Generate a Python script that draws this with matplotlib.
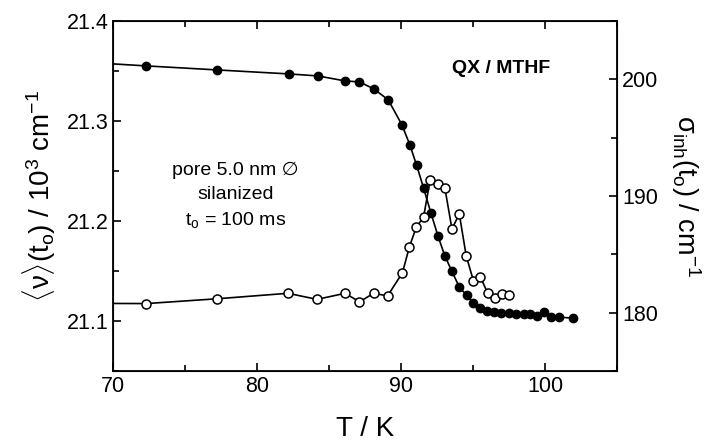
import matplotlib
matplotlib.use("Agg")
import matplotlib.pyplot as plt
from matplotlib.ticker import MultipleLocator

plt.rcParams['font.family'] = ['Liberation Sans', 'DejaVu Sans']
plt.rcParams['mathtext.fontset'] = 'custom'
plt.rcParams['mathtext.rm'] = 'Liberation Sans'
plt.rcParams['mathtext.it'] = 'Liberation Sans:italic'
plt.rcParams['mathtext.bf'] = 'Liberation Sans:bold'

# mean frequency (left axis), filled circles; first entry is the line start at the axis
T_mean = [70.0, 72.3, 77.2, 82.2, 84.2, 86.1, 87.1, 88.1, 89.1, 90.05, 90.6, 91.06,
          91.55, 92.06, 92.55, 93.03, 93.51, 94.03, 94.53, 95.0, 95.49, 95.95,
          96.41, 96.9, 97.45, 97.99, 98.49, 98.96, 99.42, 99.93, 100.42, 100.92,
          101.92]
nu_mean = [21.357, 21.355, 21.351, 21.347, 21.345, 21.340, 21.339, 21.332, 21.321,
           21.296, 21.276, 21.256, 21.233, 21.208, 21.185, 21.165, 21.150, 21.134,
           21.126, 21.118, 21.113, 21.110, 21.109, 21.108, 21.108, 21.107, 21.107,
           21.107, 21.105, 21.109, 21.104, 21.104, 21.103]

# inhomogeneous width (right axis), open circles
T_sig = [70.0, 72.3, 77.2, 82.13, 84.15, 86.1, 87.1, 88.08, 89.05, 90.08, 90.57,
         91.04, 91.55, 92.01, 92.52, 93.03, 93.52, 94.03, 94.51, 95.01, 95.5,
         95.99, 96.48, 96.96, 97.45]
sigma = [180.8, 180.79, 181.2, 181.67, 181.15, 181.67, 180.94, 181.67, 181.45,
         183.42, 185.67, 187.32, 188.21, 191.39, 191.05, 190.67, 187.18, 188.46,
         184.87, 182.74, 183.05, 181.71, 181.26, 181.62, 181.54]

fig = plt.figure(figsize=(7.12, 4.44), dpi=100)
ax = fig.add_axes([0.159, 0.164, 0.708, 0.789])
ax2 = ax.twinx()

ax.plot(T_mean, nu_mean, color='black', lw=1.2, marker='o', ms=6,
        mfc='black', mec='black', markevery=list(range(1, len(T_mean))), zorder=3)
ax2.plot(T_sig, sigma, color='black', lw=1.2, marker='o', ms=6.5,
         mfc='white', mec='black', mew=1.1, markevery=list(range(1, len(T_sig))))

ax.set_xlim(70, 105)
ax.set_ylim(21.05, 21.4)
ax2.set_ylim(175, 205)

ax.xaxis.set_minor_locator(MultipleLocator(5))
ax.yaxis.set_minor_locator(MultipleLocator(0.05))
ax2.yaxis.set_major_locator(MultipleLocator(10))
ax2.yaxis.set_minor_locator(MultipleLocator(5))

ax.tick_params(which='both', direction='in', top=True, labelsize=15.5, width=1.2)
ax.tick_params(which='major', length=6)
ax.tick_params(which='minor', length=4)
ax2.tick_params(which='both', direction='in', labelsize=15.5, width=1.2)
ax2.tick_params(which='major', length=6)
ax2.tick_params(which='minor', length=4)
for s in ax.spines.values():
    s.set_linewidth(1.3)

ax.set_yticks([21.1, 21.2, 21.3, 21.4])
ax.set_yticklabels(['21.1', '21.2', '21.3', '21.4'])
ax.set_xticks([70, 80, 90, 100])
ax.set_xticklabels(['70', '80', '90', '100'])

ax.set_xlabel('T / K', fontsize=20, labelpad=14)
ax.set_ylabel(r'$\langle\mathrm{\nu}\rangle(\mathrm{t_o})$ / 10$^3$ cm$^{-1}$',
              fontsize=20, labelpad=6)
ax2.set_ylabel(r'$\mathrm{\sigma_{inh}}(\mathrm{t_o})$ / cm$^{-1}$', fontsize=19.5,
               rotation=270, labelpad=32)

ax.text(0.242, 0.574, 'pore 5.0 nm \u2205', transform=ax.transAxes, ha='center',
        va='center', fontsize=14)
ax.text(0.242, 0.503, 'silanized', transform=ax.transAxes, ha='center',
        va='center', fontsize=14)
ax.text(0.242, 0.431, r't$_\mathrm{o}$ = 100 ms', transform=ax.transAxes, ha='center',
        va='center', fontsize=14)
ax.text(0.77, 0.863, 'QX / MTHF', transform=ax.transAxes, ha='center',
        va='center', fontsize=14, fontweight='bold')

fig.savefig('out.png', dpi=100)
